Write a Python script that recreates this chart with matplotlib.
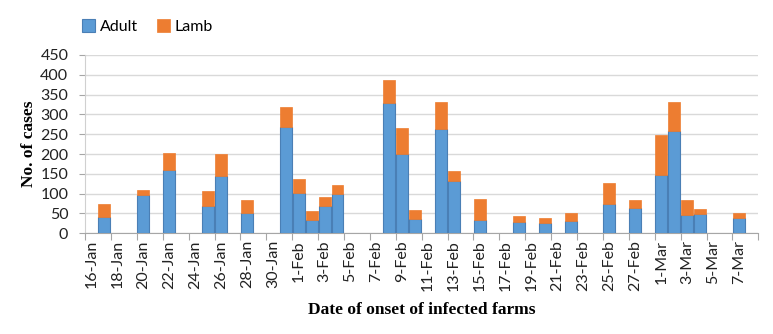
#!/usr/bin/env python3
"""Daily cases (adult vs lamb) by date of onset on infected farms."""

import matplotlib

matplotlib.use("Agg")

import matplotlib.pyplot as plt
import numpy as np
import pandas as pd

# onset dates that had cases, with adult and lamb counts
onset_dates = [
    "2019-01-17", "2019-01-20", "2019-01-22", "2019-01-25", "2019-01-26",
    "2019-01-28", "2019-01-31", "2019-02-01", "2019-02-02", "2019-02-03",
    "2019-02-04", "2019-02-08", "2019-02-09", "2019-02-10", "2019-02-12",
    "2019-02-13", "2019-02-15", "2019-02-18", "2019-02-20", "2019-02-22",
    "2019-02-25", "2019-02-27", "2019-03-01", "2019-03-02", "2019-03-03",
    "2019-03-04", "2019-03-07",
]
adult = [41, 97, 160, 69, 145, 52, 269, 102, 34, 70, 98, 330, 200, 37, 262,
         131, 34, 29, 25, 32, 75, 65, 147, 259, 45, 49, 39]
lamb = [32, 12, 42, 38, 55, 32, 49, 35, 22, 22, 24, 57, 66, 22, 69,
        26, 52, 15, 14, 19, 53, 19, 101, 73, 39, 12, 12]

axis_start = pd.Timestamp("2019-01-16")
axis_end = pd.Timestamp("2019-03-08")
y_ticks = np.arange(0, 451, 50)

BLUE = "#5b9bd5"
BLUE_EDGE = "#4a7fb5"
ORANGE = "#ed7d31"
TICK_GREY = "#a6a6a6"


def main() -> None:
    days = pd.date_range(axis_start, axis_end, freq="D")
    x = np.array([(pd.Timestamp(d) - axis_start).days for d in onset_dates])
    adult_arr = np.array(adult)
    lamb_arr = np.array(lamb)

    fig = plt.figure(figsize=(7.73, 3.34), dpi=100)
    ax = fig.add_axes([0.110, 0.3015, 0.871, 0.534])

    ax.bar(x, adult_arr, width=0.92, color=BLUE, edgecolor=BLUE_EDGE,
           linewidth=0.8, label="Adult", zorder=3)
    ax.bar(x, lamb_arr, width=0.92, bottom=adult_arr, color=ORANGE,
           edgecolor=ORANGE, linewidth=0.5, label="Lamb", zorder=3)

    ax.set_xlim(-0.5, len(days) - 0.5)
    ax.set_ylim(0, 450)
    ax.set_yticks(y_ticks)
    ax.set_yticklabels([str(v) for v in y_ticks], fontsize=11.5,
                       family="Lato", color="#222222")
    ax.tick_params(axis="y", length=4, width=0.8, color=TICK_GREY,
                   direction="out", pad=8)
    ax.yaxis.grid(True, color="#d9d9d9", linewidth=1.0, zorder=0)

    # labels every two days, tick marks between the labelled pairs
    label_pos = np.arange(0, len(days), 2)
    ax.set_xticks(label_pos)
    ax.set_xticklabels([f"{d.day}-{d.strftime('%b')}" for d in days[::2]],
                       rotation=90, fontsize=11.5, family="Lato",
                       color="#222222")
    ax.tick_params(axis="x", which="major", length=0, pad=5)
    ax.set_xticks(np.arange(-0.5, len(days), 2), minor=True)
    ax.tick_params(axis="x", which="minor", length=5, width=0.8,
                   color=TICK_GREY, direction="out")

    for side in ("top", "right"):
        ax.spines[side].set_visible(False)
    ax.spines["bottom"].set_color(TICK_GREY)
    ax.spines["left"].set_color("#d0d0d0")

    ax.set_ylabel("No. of cases", family="Liberation Serif",
                  fontweight="bold", fontsize=12.5, labelpad=2)
    ax.set_xlabel("Date of onset of infected farms", family="Liberation Serif",
                  fontweight="bold", fontsize=12.5, labelpad=8)

    fig.legend(loc="upper left", bbox_to_anchor=(0.088, 0.985), ncol=2,
               frameon=False, prop={"family": "Lato", "size": 11.5},
               handlelength=0.8, handleheight=0.8, handletextpad=0.3,
               columnspacing=1.2)

    fig.savefig("out.png", dpi=100)
    plt.close(fig)


if __name__ == "__main__":
    main()
